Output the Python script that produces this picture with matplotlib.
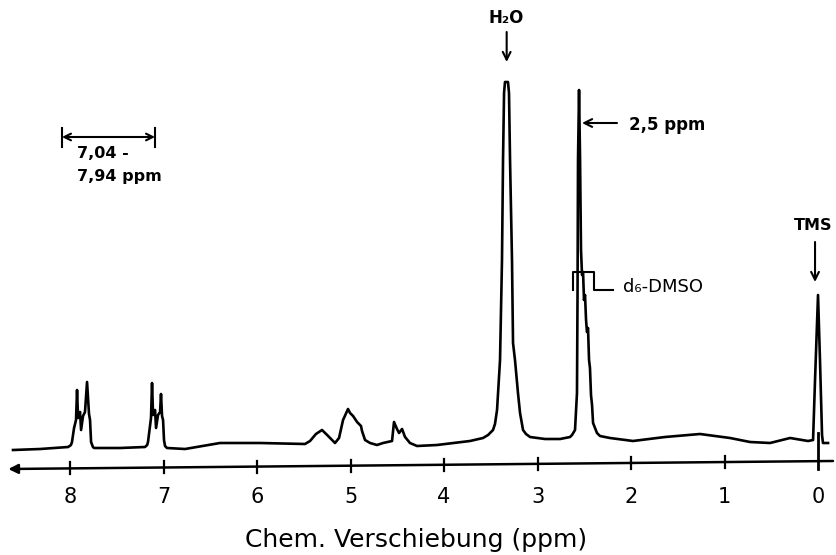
import matplotlib
matplotlib.use("Agg")
import matplotlib.pyplot as plt

# ---- traced spectrum (chemical shift in ppm, relative intensity) ----
ppm = [8.61, 8.32, 8.02, 7.99, 7.979, 7.957, 7.936, 7.925, 7.914, 7.893, 7.882, 7.861, 7.840,
       7.818, 7.797, 7.786, 7.775, 7.755, 7.743, 7.465, 7.198, 7.175, 7.166, 7.144, 7.134, 7.123,
       7.112, 7.091, 7.080, 7.059, 7.037, 7.027, 7.016, 7.005, 6.995, 6.984, 6.963, 6.770,
       6.396, 5.968, 5.487, 5.433, 5.370, 5.305, 5.250, 5.219, 5.166, 5.123, 5.080, 5.027,
       5.005, 4.973, 4.930, 4.909, 4.888, 4.877, 4.845, 4.791, 4.717, 4.652, 4.556, 4.535,
       4.503, 4.481, 4.449, 4.417, 4.364, 4.289, 4.075, 3.722, 3.583, 3.529, 3.476, 3.455,
       3.433, 3.401, 3.380, 3.369, 3.358, 3.348, 3.316, 3.305, 3.294, 3.273, 3.262, 3.241,
       3.209, 3.187, 3.155, 3.123, 3.080, 2.920, 2.759, 2.652, 2.631, 2.599, 2.578, 2.572,
       2.567, 2.556, 2.545, 2.535, 2.524, 2.513, 2.503, 2.492, 2.481, 2.471, 2.460, 2.449,
       2.439, 2.428, 2.417, 2.406, 2.364, 2.332, 2.225, 1.979, 1.636, 1.262, 0.941, 0.727,
       0.513, 0.299, 0.107, 0.053, 0.032, 0.000, -0.021, -0.043, -0.053, -0.107]
intensity = [0, 1, 3, 5, 8, 22, 30, 60, 32, 38, 20, 34, 38,
             68, 36, 30, 8, 3, 2, 2, 3, 5, 8, 25, 32, 67,
             35, 40, 22, 35, 38, 56, 34, 30, 10, 4, 2, 1,
             7, 7, 6, 9, 16, 20, 15, 12, 7, 12, 30, 41,
             37, 34, 28, 26, 24, 19, 10, 7, 5, 7, 9, 28,
             21, 17, 21, 13, 7, 4, 5, 9, 12, 15, 20, 26,
             40, 90, 190, 290, 357, 368, 368, 357, 290, 190, 107, 90,
             57, 37, 20, 16, 13, 11, 11, 13, 15, 20, 57, 157,
             290, 360, 290, 200, 175, 178, 150, 155, 130, 118, 122, 90,
             82, 55, 45, 27, 17, 14, 12, 9, 13, 16, 12, 8,
             7, 12, 9, 10, 70, 155, 90, 15, 7, 7]

tick_values = [8, 7, 6, 5, 4, 3, 2, 1, 0]
tick_labels = ["8", "7", "6", "5", "4", "3", "2", "1", "0"]
x_title = "Chem. Verschiebung (ppm)"

fig = plt.figure(figsize=(8.37, 5.55), dpi=100)
ax = fig.add_axes([0, 0, 1, 1])
ax.set_xlim(8.749, -0.203)
ax.set_ylim(-105, 450)
ax.axis("off")

ink = "black"
ax.plot(ppm, intensity, color=ink, lw=1.9, solid_joinstyle="round")

# hand-drawn x axis (slightly tilted) with arrow to the left
def axis_y(p):
    return -19 + (8.66 - p) / (8.66 + 0.16) * 8

ax.annotate("", xy=(8.66, axis_y(8.66)), xytext=(-0.16, axis_y(-0.16)),
            arrowprops=dict(arrowstyle="-|>", color=ink, lw=1.8,
                            mutation_scale=14, shrinkA=0, shrinkB=0))
for t, lab in zip(tick_values, tick_labels):
    yb = axis_y(t)
    if t == 0:
        ax.plot([t, t], [yb - 8, 17], color=ink, lw=2)
    else:
        ax.plot([t, t], [yb - 6, yb + 6], color=ink, lw=1.6)
    ax.text(t, -47, lab, ha="center", va="center", fontsize=15, color=ink)

ax.text(4.30, -90, x_title, ha="center", va="center", fontsize=18, color=ink)

# range marker for aromatic region
ax.annotate("", xy=(8.086, 313), xytext=(7.091, 313),
            arrowprops=dict(arrowstyle="<->", color=ink, lw=1.5,
                            shrinkA=0, shrinkB=0, mutation_scale=12))
for xb in (8.086, 7.091):
    ax.plot([xb, xb], [303, 322], color=ink, lw=1.5)
ax.text(7.93, 296, "7,04 -", ha="left", va="center", fontsize=11.5,
        fontweight="bold", color=ink)
ax.text(7.93, 273, "7,94 ppm", ha="left", va="center", fontsize=11.5,
        fontweight="bold", color=ink)

# H2O label
ax.text(3.33, 432, "H\u2082O", ha="center", va="center", fontsize=12,
        fontweight="bold", color=ink)
ax.annotate("", xy=(3.33, 388), xytext=(3.33, 418),
            arrowprops=dict(arrowstyle="->", color=ink, lw=1.5,
                            shrinkA=0, shrinkB=0, mutation_scale=14))

# 2.5 ppm label
ax.annotate("", xy=(2.524, 327), xytext=(2.150, 327),
            arrowprops=dict(arrowstyle="->", color=ink, lw=1.5,
                            shrinkA=0, shrinkB=0, mutation_scale=14))
ax.text(2.02, 325, "2,5 ppm", ha="left", va="center", fontsize=12,
        fontweight="bold", color=ink)

# d6-DMSO bracket
ax.plot([2.620, 2.620, 2.396, 2.396, 2.193], [160, 178, 178, 160, 160],
        color=ink, lw=1.5)
ax.text(2.09, 163, "d\u2086-DMSO", ha="left", va="center", fontsize=13,
        color=ink)

# TMS label
ax.text(0.05, 225, "TMS", ha="center", va="center", fontsize=11.5,
        fontweight="bold", color=ink)
ax.annotate("", xy=(0.032, 168), xytext=(0.032, 208),
            arrowprops=dict(arrowstyle="->", color=ink, lw=1.5,
                            shrinkA=0, shrinkB=0, mutation_scale=14))

fig.savefig("out.png", dpi=100, facecolor="white")
